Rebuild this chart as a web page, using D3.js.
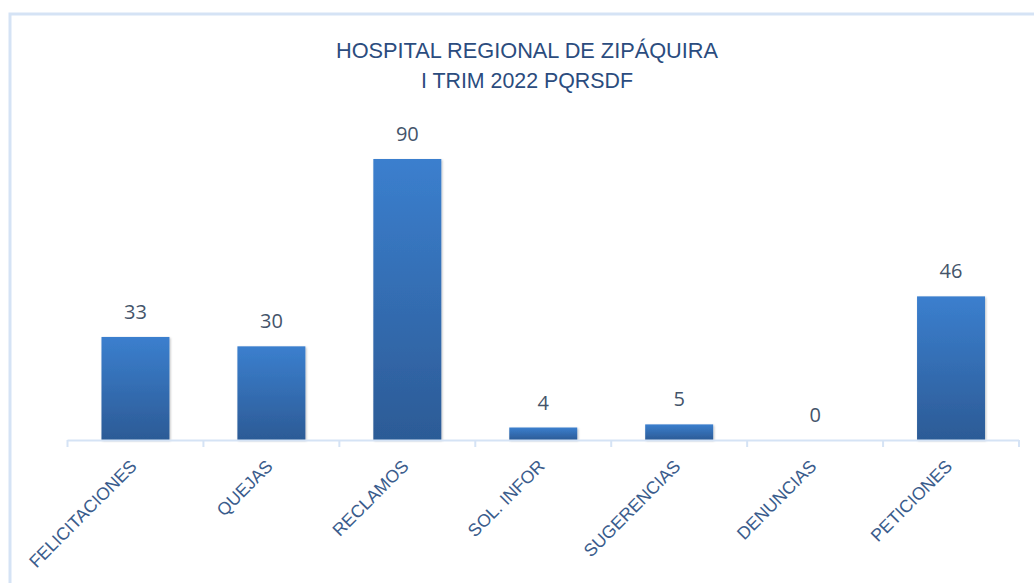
<!DOCTYPE html>
<html><head><meta charset="utf-8">
<script src="https://cdn.jsdelivr.net/npm/d3@7"></script>
<style>body{margin:0;background:#fff}svg{display:block}</style>
</head><body>
<svg id="c" width="1034" height="583"></svg>
<script>
const categories = ["FELICITACIONES","QUEJAS","RECLAMOS","SOL. INFOR","SUGERENCIAS","DENUNCIAS","PETICIONES"];
const values = [33,30,90,4,5,0,46];
const titleLines = ["HOSPITAL REGIONAL  DE ZIPÁQUIRA","I TRIM 2022 PQRSDF"];

const svg = d3.select("#c");
const baseY = 440;

// frame
svg.append("rect").attr("x",10).attr("y",14).attr("width",1100).attr("height",700)
  .attr("fill","none").attr("stroke","#D5E3F5").attr("stroke-width",3);

const defs = svg.append("defs");
const g = defs.append("linearGradient").attr("id","bg").attr("x1",0).attr("y1",0).attr("x2",0).attr("y2",1);
g.append("stop").attr("offset","0%").attr("stop-color","#3B7FCE");
g.append("stop").attr("offset","100%").attr("stop-color","#2C5B96");
const f = defs.append("filter").attr("id","sh").attr("x","-10%").attr("y","-10%").attr("width","130%").attr("height","130%");
f.append("feDropShadow").attr("dx",1).attr("dy",1).attr("stdDeviation",1.2).attr("flood-color","#000").attr("flood-opacity",0.25);

const x = d3.scaleBand().domain(categories).range([67.5,1019]).paddingInner(0.5).paddingOuter(0.25);
const y = d3.scaleLinear().domain([0,90]).range([baseY,159]);

// bars
svg.append("g").selectAll("rect").data(values).join("rect")
  .attr("x",(d,i)=>x(categories[i]))
  .attr("y",d=>y(d))
  .attr("width",x.bandwidth())
  .attr("height",d=>baseY-y(d))
  .attr("fill","url(#bg)")
  .attr("filter","url(#sh)");

// axis
const ax = svg.append("g").attr("transform",`translate(0,${baseY})`);
ax.append("line").attr("x1",67.5).attr("x2",1019).attr("y1",0.5).attr("y2",0.5)
  .attr("stroke","#D5E3F5").attr("stroke-width",2);
const tickXs = d3.range(categories.length+1).map(i=>67.5+i*(1019-67.5)/categories.length);
ax.selectAll("line.t").data(tickXs).join("line").attr("class","t")
  .attr("x1",d=>d).attr("x2",d=>d).attr("y1",0).attr("y2",7)
  .attr("stroke","#D5E3F5").attr("stroke-width",2);

// value labels
svg.append("g").selectAll("text").data(values).join("text")
  .attr("x",(d,i)=>x(categories[i])+x.bandwidth()/2)
  .attr("y",d=>y(d)-18)
  .attr("text-anchor","middle")
  .attr("font-family","'Open Sans', 'Liberation Sans', sans-serif")
  .attr("font-size",20)
  .attr("fill","#44546A")
  .text(d=>d);

// category labels
svg.append("g").selectAll("text").data(categories).join("text")
  .attr("transform",d=>`translate(${x(d)+x.bandwidth()/2-2},${baseY+23}) rotate(-45)`)
  .attr("text-anchor","end")
  .attr("dy","0.35em")
  .attr("font-family","'Liberation Sans', Arial, sans-serif")
  .attr("font-size",17.6)
  .attr("fill","#3A5C8C")
  .text(d=>d);

// title
svg.append("g").selectAll("text").data(titleLines).join("text")
  .attr("x",527).attr("y",(d,i)=>58+i*30)
  .attr("text-anchor","middle")
  .attr("font-family","'Liberation Sans', Arial, sans-serif")
  .attr("font-size",22)
  .attr("fill","#2B4C7E")
  .attr("textLength",(d,i)=>i===0?382:212)
  .attr("lengthAdjust","spacingAndGlyphs")
  .text(d=>d);
</script>
</body></html>
